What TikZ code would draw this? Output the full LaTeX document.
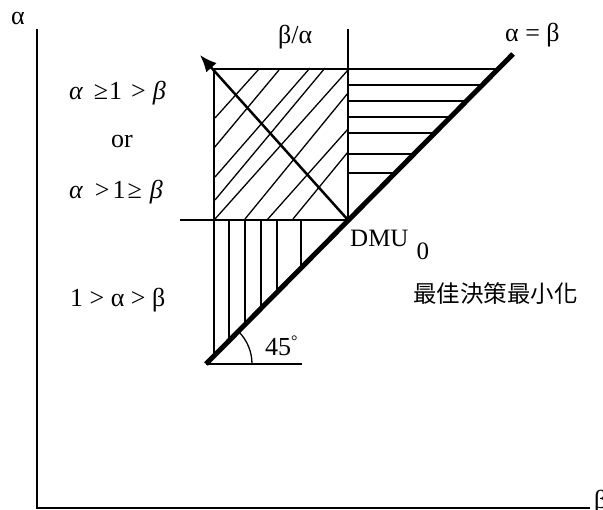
\documentclass[tikz,border=0pt]{standalone}
\usepackage{fontspec}
\setmainfont{Liberation Serif}
\newfontfamily\cjk{Noto Sans CJK TC}
\usetikzlibrary{arrows.meta, calc, positioning}

\begin{document}
\begin{tikzpicture}[
    x=1pt,
    y=-1pt,
    axisline/.style={line width=1.6pt, draw=black},
    frameline/.style={line width=1.5pt, draw=black},
    hatchline/.style={line width=1.3pt, draw=black},
    diagline/.style={line width=5pt, draw=black},
    arrowline/.style={-{Latex[length=17pt,width=14pt]}, line width=2.5pt},
    lbl/.style={font=\fontsize{26}{30}\selectfont, inner sep=0pt},
    ineq/.style={font=\fontsize{26}{30}\selectfont, inner sep=0pt}
  ]
  \useasboundingbox (0,0) rectangle (603,510);

  % axes
  \coordinate (o) at (37,508);
  \coordinate (ytop) at (37,29);
  \coordinate (xend) at (590,508);
  \draw[axisline] (ytop) -- (o) -- (xend);
  \node[lbl, anchor=base west] (alab) at (11,25) {α};
  \node[lbl, anchor=base west] (blab) at (594,509) {β};

  % frame around DMU
  \coordinate (dmu) at (348,220);
  \coordinate (low) at (206,364);
  \coordinate (high) at (513,54);
  \coordinate (tl) at (214,69);
  \coordinate (tr) at (499,69);
  \coordinate (vtop) at (348,29);
  \coordinate (hl) at (180,220);
  \coordinate (lb) at (214,354);
  \coordinate (base) at (302,364);
  \draw[frameline] (tl) -- (tr);
  \draw[frameline] (vtop) -- (dmu) -- (hl);
  \draw[frameline] (tl) -- (lb);
  \draw[frameline] (low) -- (base);

  % hatching
  \foreach \y in {85,101,117,133,154,173}
    \draw[hatchline] (347,\y) -- ({568-\y},\y);
  \foreach \x in {229,245,261,277,301}
    \draw[hatchline] (\x,220) -- (\x,{568-\x});
  \foreach \a/\b/\c/\d in {215/118/259/69, 214/148/279/70, 215/177/310/68,
      215/200/325/68, 215/219/348/70, 245/219/348/93, 267/220/348/129,
      293/219/348/152}
    \draw[hatchline] (\a,\b) -- (\c,\d);

  % direction beta/alpha
  \coordinate (tip) at (200,55);
  \draw[arrowline] (dmu) -- (tip);

  % alpha = beta
  \draw[diagline] (low) -- (high);
  \draw[hatchline] ($(low)+(46,0)$) arc[start angle=0, end angle=45, radius=46pt];

  % labels
  \node[lbl, anchor=base west] (ratio) at (278,44) {β/α};
  \node[lbl, anchor=base west] (equal) at (505,42) {α = β};
  \node[ineq, anchor=base west] (ineqa) at (69,100)
    {{\itshape α}\hspace{11pt}≥\hspace{1pt}1\hspace{9pt}>\hspace{7pt}{\itshape β}};
  \node[ineq, anchor=base] (orlab) at (122,148) {or};
  \node[ineq, anchor=base west] (ineqb) at (69,199)
    {{\itshape α}\hspace{12pt}>\hspace{3pt}1\hspace{2pt}≥\hspace{8pt}{\itshape β}};
  \node[lbl, anchor=base west] (ineqc) at (70,307) {1 > α > β};
  \node[lbl, font=\fontsize{25}{29}\selectfont, anchor=base west] (dmulab) at (350,247)
    {DMU\hspace{8pt}\raisebox{-13pt}{0}};
  \node[lbl, anchor=base west] (angle) at (265,356)
    {45\raisebox{9pt}{\fontsize{16}{16}\selectfont °}};
  \node[lbl, font=\cjk\fontsize{23.5}{27}\selectfont, anchor=base west] (goal)
    at (413,303) {最佳決策最小化};

\end{tikzpicture}
\end{document}
